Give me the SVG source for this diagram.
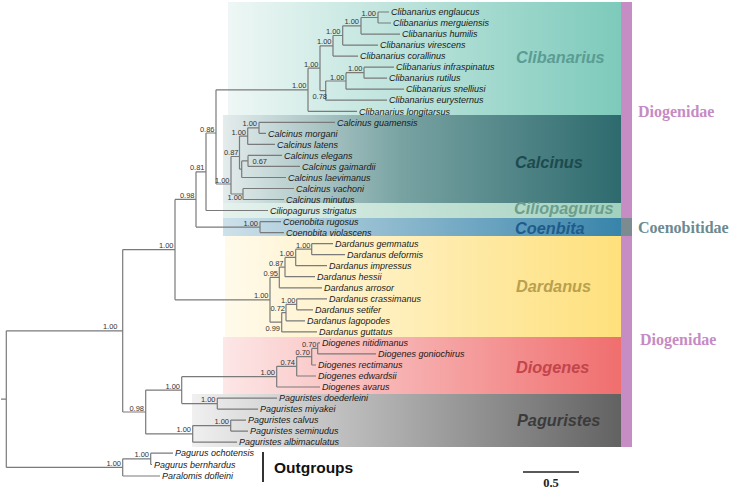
<svg xmlns="http://www.w3.org/2000/svg" width="733" height="489" viewBox="0 0 733 489">
<defs>
<linearGradient id="gClib" x1="0" x2="1" y1="0" y2="0"><stop offset="0" stop-color="#eef7f5"/><stop offset="1" stop-color="#7dcabb"/></linearGradient>
<linearGradient id="gCalc" x1="0" x2="1" y1="0" y2="0"><stop offset="0" stop-color="#e4ecec"/><stop offset="0.45" stop-color="#78a2a2"/><stop offset="1" stop-color="#2d6a6e"/></linearGradient>
<linearGradient id="gCilio" x1="0" x2="1" y1="0" y2="0"><stop offset="0" stop-color="#e5f2ed"/><stop offset="1" stop-color="#a2d1be"/></linearGradient>
<linearGradient id="gCoen" x1="0" x2="1" y1="0" y2="0"><stop offset="0" stop-color="#cde1ea"/><stop offset="1" stop-color="#3884aa"/></linearGradient>
<linearGradient id="gDard" x1="0" x2="1" y1="0" y2="0"><stop offset="0" stop-color="#fffaeb"/><stop offset="1" stop-color="#fee07c"/></linearGradient>
<linearGradient id="gDiog" x1="0" x2="1" y1="0" y2="0"><stop offset="0" stop-color="#fde7e7"/><stop offset="1" stop-color="#f06e6e"/></linearGradient>
<linearGradient id="gPag" x1="0" x2="1" y1="0" y2="0"><stop offset="0" stop-color="#f0f0f0"/><stop offset="1" stop-color="#626262"/></linearGradient>
</defs>
<style>
.br{fill:none;stroke:#7a7a7a;stroke-width:1.2}
.tip{font-family:"Liberation Sans",Arial,sans-serif;font-style:italic;font-size:9px;fill:#1a1a1a}
.sup{font-family:"Liberation Sans",Arial,sans-serif;font-size:7.5px;fill:#333;text-anchor:end}
.gen{font-family:"Liberation Sans",Arial,sans-serif;font-style:italic;font-weight:bold;font-size:16.3px}
.fam{font-family:"Liberation Serif","Times New Roman",serif;font-weight:bold;font-size:16px}
</style>
<rect width="733" height="489" fill="#ffffff"/>
<g id="bands">
<rect x="228" y="2" width="393" height="113" fill="url(#gClib)"/>
<rect x="223" y="115" width="398" height="88" fill="url(#gCalc)"/>
<rect x="223" y="203" width="398" height="15" fill="url(#gCilio)"/>
<rect x="223" y="218" width="398" height="18" fill="url(#gCoen)"/>
<rect x="225" y="236" width="396" height="101" fill="url(#gDard)"/>
<rect x="223" y="337" width="398" height="57" fill="url(#gDiog)"/>
<rect x="192" y="394" width="429" height="53" fill="url(#gPag)"/>
<rect x="621" y="2" width="11" height="445" fill="#c58dc4"/>
<rect x="621" y="218" width="11" height="18" fill="#7c8b90"/>
</g>
<g id="clade-labels">
<text class="gen" x="516" y="63" fill="#5b9c93">Clibanarius</text>
<text class="gen" x="515" y="168" fill="#1d4a4f">Calcinus</text>
<text class="gen" x="514" y="214" fill="#6b9e8c" font-size="15.8">Ciliopagurus</text>
<text class="gen" x="515" y="233.5" fill="#1f5b8c">Coenbita</text>
<text class="gen" x="516" y="292" fill="#b9a04e">Dardanus</text>
<text class="gen" x="516" y="373" fill="#c2454c">Diogenes</text>
<text class="gen" x="517" y="426" fill="#3b3b3b">Paguristes</text>
</g>
<g id="families">
<text class="fam" x="638" y="117" fill="#c68bc4">Diogenidae</text>
<text class="fam" x="638" y="233" fill="#6d8a91">Coenobitidae</text>
<text class="fam" x="640" y="345" fill="#c68bc4">Diogenidae</text>
</g>
<g id="connectors">
<path class="br" d="M378 12V23M378 12H389M378 23H391
M361 17.5V34.1M361 17.5H378M361 34.1H400
M342.7 25.8V45.1M342.7 25.8H361M342.7 45.1H378
M333 35.5V56.1M333 35.5H342.7M333 56.1H358
M364 67.2V78.2M364 67.2H394M364 78.2H387
M346 72.7V89.2M346 72.7H364M346 89.2H404
M325.7 81V100.2M325.7 81H346M325.7 100.2H387
M320 45.8V90.6M320 45.8H333M320 90.6H325.7
M308 68.2V111.3M308 68.2H320M308 111.3H357
M216 89.8V184M216 89.8H308M216 184H231
M259 122.3V133.3M259 122.3H335M259 133.3H266
M247.7 127.8V144.4M247.7 127.8H259M247.7 144.4H275
M248 155.4V166.4M248 155.4H282M248 166.4H300
M241.7 160.9V177.5M241.7 160.9H248M241.7 177.5H286
M239.5 136.1V169.2M239.5 136.1H247.7M239.5 169.2H241.7
M243 188.5V199.5M243 188.5H294M243 199.5H284
M231 156.5V194M231 156.5H239.5M231 194H243
M206 133V210.5M206 133H216M206 210.5H268
M260 221.6V232.6M260 221.6H281M260 232.6H284
M196 171.8V227.1M196 171.8H206M196 227.1H260
M175 199.4V299.8M175 199.4H196M175 299.8H270
M311.7 243.6V254.7M311.7 243.6H333M311.7 254.7H345
M295.7 249.2V265.7M295.7 249.2H311.7M295.7 265.7H327
M285 257.4V276.7M285 257.4H295.7M285 276.7H315
M279.3 267.1V287.8M279.3 267.1H285M279.3 287.8H322
M296.7 298.8V309.8M296.7 298.8H327M296.7 309.8H313
M286 304.3V320.8M286 304.3H296.7M286 320.8H305
M281.7 312.6V331.9M281.7 312.6H286M281.7 331.9H317
M270 277.4V322.2M270 277.4H279.3M270 322.2H281.7
M122.7 249.6V412M122.7 249.6H175M122.7 412H145.7
M317.7 342.9V353.9M317.7 342.9H320M317.7 353.9H376
M311.7 348.4V365M311.7 348.4H317.7M311.7 365H316
M296.7 356.7V376M296.7 356.7H311.7M296.7 376H316
M276.7 366.3V387M276.7 366.3H296.7M276.7 387H320
M181.7 376.7V403.6M181.7 376.7H276.7M181.7 403.6H217.3
M217.3 398.1V409.1M217.3 398.1H277M217.3 409.1H258
M230.7 420.1V431.1M230.7 420.1H246M230.7 431.1H248
M192.7 425.6V442.2M192.7 425.6H230.7M192.7 442.2H237
M145.7 390.1V433.9M145.7 390.1H181.7M145.7 433.9H192.7
M150.7 453.2V464.5M150.7 453.2H173M150.7 464.5H152
M122.7 458.8V476M122.7 458.8H150.7M122.7 476H160
M6.3 330.8V467.4M6.3 330.8H122.7M6.3 467.4H122.7M1 399.1H6.3"/>
<path d="M263 452V482" stroke="#333" stroke-width="2" fill="none"/>
<path d="M523 472H579" stroke="#222" stroke-width="1.6" fill="none"/>
</g>
<g id="tips">
<text class="tip" x="391" y="15.2">Clibanarius englaucus</text>
<text class="tip" x="393" y="26.2">Clibanarius merguiensis</text>
<text class="tip" x="402" y="37.3">Clibanarius humilis</text>
<text class="tip" x="380" y="48.3">Clibanarius virescens</text>
<text class="tip" x="360" y="59.3">Clibanarius corallinus</text>
<text class="tip" x="396" y="70.4">Clibanarius infraspinatus</text>
<text class="tip" x="389" y="81.4">Clibanarius rutilus</text>
<text class="tip" x="406" y="92.4">Clibanarius snelliusi</text>
<text class="tip" x="389" y="103.4">Clibanarius eurysternus</text>
<text class="tip" x="359" y="114.5">Clibanarius longitarsus</text>
<text class="tip" x="337" y="125.5">Calcinus guamensis</text>
<text class="tip" x="268" y="136.5">Calcinus morgani</text>
<text class="tip" x="277" y="147.6">Calcinus latens</text>
<text class="tip" x="284" y="158.6">Calcinus elegans</text>
<text class="tip" x="302" y="169.6">Calcinus gaimardii</text>
<text class="tip" x="288" y="180.7">Calcinus laevimanus</text>
<text class="tip" x="296" y="191.7">Calcinus vachoni</text>
<text class="tip" x="286" y="202.7">Calcinus minutus</text>
<text class="tip" x="270" y="213.7">Ciliopagurus strigatus</text>
<text class="tip" x="283" y="224.8">Coenobita rugosus</text>
<text class="tip" x="286" y="235.8">Coenobita violascens</text>
<text class="tip" x="335" y="246.8">Dardanus gemmatus</text>
<text class="tip" x="347" y="257.9">Dardanus deformis</text>
<text class="tip" x="329" y="268.9">Dardanus impressus</text>
<text class="tip" x="317" y="279.9">Dardanus hessii</text>
<text class="tip" x="324" y="291">Dardanus arrosor</text>
<text class="tip" x="329" y="302">Dardanus crassimanus</text>
<text class="tip" x="315" y="313">Dardanus setifer</text>
<text class="tip" x="307" y="324">Dardanus lagopodes</text>
<text class="tip" x="319" y="335.1">Dardanus guttatus</text>
<text class="tip" x="322" y="346.1">Diogenes nitidimanus</text>
<text class="tip" x="378" y="357.1">Diogenes goniochirus</text>
<text class="tip" x="318" y="368.2">Diogenes rectimanus</text>
<text class="tip" x="318" y="379.2">Diogenes edwardsii</text>
<text class="tip" x="322" y="390.2">Diogenes avarus</text>
<text class="tip" x="279" y="401.3">Paguristes doederleini</text>
<text class="tip" x="260" y="412.3">Paguristes miyakei</text>
<text class="tip" x="248" y="423.3">Paguristes calvus</text>
<text class="tip" x="250" y="434.3">Paguristes seminudus</text>
<text class="tip" x="239" y="445.4">Paguristes albimaculatus</text>
<text class="tip" x="175" y="456.4">Pagurus ochotensis</text>
<text class="tip" x="154" y="467.7">Pagurus bernhardus</text>
<text class="tip" x="162" y="479.2">Paralomis dofleini</text>
</g>
<g id="support">
<text class="sup" x="376" y="16">1.00</text>
<text class="sup" x="359" y="24.3">1.00</text>
<text class="sup" x="340.5" y="34">1.00</text>
<text class="sup" x="331.5" y="44.3">1.00</text>
<text class="sup" x="362.5" y="71.2">1.00</text>
<text class="sup" x="344.5" y="79.5">1.00</text>
<text class="sup" x="327" y="98.7">0.78</text>
<text class="sup" x="318.5" y="66.7">1.00</text>
<text class="sup" x="306.5" y="88.3">1.00</text>
<text class="sup" x="214.5" y="131.5">0.86</text>
<text class="sup" x="204.5" y="170.3">0.81</text>
<text class="sup" x="194.5" y="197.9">0.98</text>
<text class="sup" x="229.5" y="182.5">1.00</text>
<text class="sup" x="257" y="126.3">1.00</text>
<text class="sup" x="246" y="134.6">1.00</text>
<text class="sup" x="238.5" y="155">0.87</text>
<text class="sup" x="267" y="163.7">0.67</text>
<text class="sup" x="242" y="199.5">1.00</text>
<text class="sup" x="258" y="225.6">1.00</text>
<text class="sup" x="173.5" y="248.1">1.00</text>
<text class="sup" x="310.5" y="247.7">1.00</text>
<text class="sup" x="294" y="255.9">1.00</text>
<text class="sup" x="283.5" y="265.6">0.87</text>
<text class="sup" x="278" y="275.9">0.95</text>
<text class="sup" x="295.5" y="302.8">1.00</text>
<text class="sup" x="285" y="311.1">0.72</text>
<text class="sup" x="280" y="331">0.99</text>
<text class="sup" x="268.5" y="298.3">1.00</text>
<text class="sup" x="117.5" y="329.3">1.00</text>
<text class="sup" x="316.5" y="346.9">0.70</text>
<text class="sup" x="310" y="355.2">0.70</text>
<text class="sup" x="295" y="364.8">0.74</text>
<text class="sup" x="275" y="375.2">1.00</text>
<text class="sup" x="180" y="388.6">1.00</text>
<text class="sup" x="215.5" y="402.1">1.00</text>
<text class="sup" x="229" y="424.1">1.00</text>
<text class="sup" x="191" y="432.4">1.00</text>
<text class="sup" x="144" y="410.5">0.98</text>
<text class="sup" x="149" y="457.3">1.00</text>
<text class="sup" x="121" y="465.9">1.00</text>
</g>
<g id="legend">
<text x="274" y="473" font-family="'Liberation Sans',Arial,sans-serif" font-weight="bold" font-size="15.5" fill="#111">Outgroups</text>
<text x="551" y="486.5" text-anchor="middle" font-family="'Liberation Serif','Times New Roman',serif" font-weight="bold" font-size="12.5" fill="#222">0.5</text>
</g>
</svg>
